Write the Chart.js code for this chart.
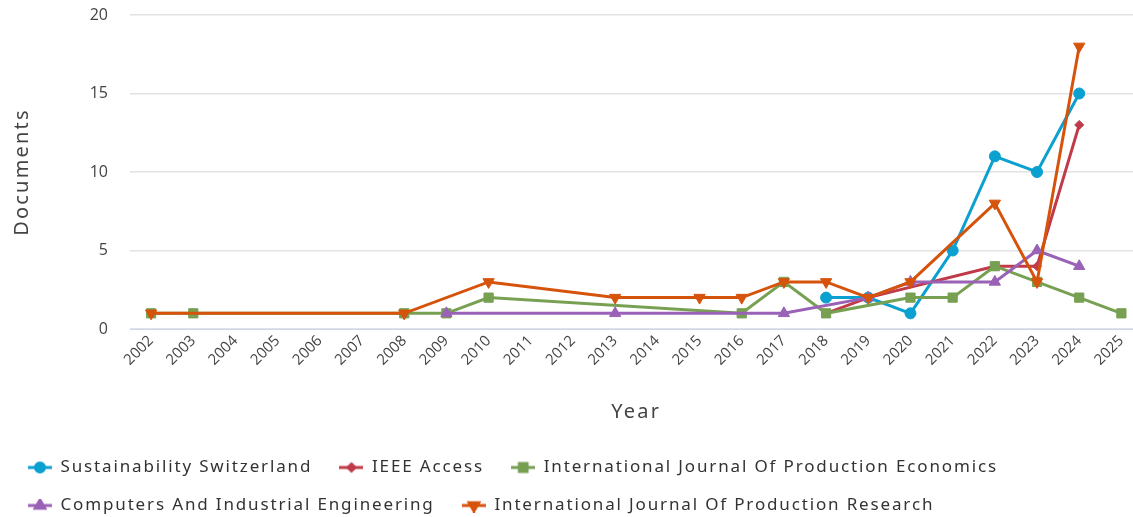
<!DOCTYPE html>
<html>
<head>
<meta charset="utf-8">
<script src="https://cdn.jsdelivr.net/npm/chart.js@4.4.1/dist/chart.umd.min.js"></script>
<style>
  html, body { margin: 0; padding: 0; background: #ffffff; overflow: hidden; }
  #wrap { position: relative; width: 1133px; height: 517px; overflow: hidden; }
  #c { position: absolute; left: 0; top: 0; }
</style>
</head>
<body>
<div id="wrap"><canvas id="c" width="1150" height="524"></canvas></div>
<script>
const years = ["2002","2003","2004","2005","2006","2007","2008","2009","2010","2011","2012","2013",
               "2014","2015","2016","2017","2018","2019","2020","2021","2022","2023","2024","2025"];
//                      02   03   04   05   06   07   08   09   10   11   12   13   14   15   16   17   18  19  20  21  22  23  24  25
const sustainability = [null,null,null,null,null,null,null,null,null,null,null,null,null,null,null,null,2,  2,  1,  5,  11, 10, 15, null];
const ieeeAccess     = [null,null,null,null,null,null,null,null,null,null,null,null,null,null,null,null,1,  2,  null,null,4,4,  13, null];
const prodEconomics  = [1,   1,   null,null,null,null,1,   1,   2,   null,null,null,null,null,1,   3,   1,  null,2, 2,  4,  3,  2,  1];
const compIndEng     = [null,null,null,null,null,null,null,1,   null,null,null,1,   null,null,null,1,   null,2, 3,  null,3,5,  4,  null];
const prodResearch   = [1,   null,null,null,null,null,1,   null,3,   null,null,2,   null,2,   2,   3,   3,   2,  3,  null,8,3,  18, null];

const seriesNames = ["Sustainability Switzerland", "IEEE Access", "International Journal Of Production Economics",
                     "Computers And Industrial Engineering", "International Journal Of Production Research"];
const yTicks = [0, 5, 10, 15, 20];

// wider tracking for the legend / axis-title font (reference font is wide)
(function () {
  const d = Object.getOwnPropertyDescriptor(CanvasRenderingContext2D.prototype, "font");
  Object.defineProperty(CanvasRenderingContext2D.prototype, "font", {
    configurable: true,
    get() { return d.get.call(this); },
    set(v) {
      d.set.call(this, v);
      if ("letterSpacing" in this) {
        const m = /(\d+(?:\.\d+)?)px/.exec(v);
        if (/Noto Sans/.test(v) && m) this.letterSpacing = (parseFloat(m[1]) * 0.109).toFixed(2) + "px";
        else this.letterSpacing = "0px";
      }
    }
  });
})();

const TFONT = "'Noto Sans', 'Open Sans', sans-serif";
const NFONT = "'Open Sans', sans-serif";
const styles = [
  { color: "#0aa0cf", pointStyle: "circle",   rotation: 0,   radius: 5.5 },
  { color: "#c03a4a", pointStyle: "rectRot",  rotation: 0,   radius: 4.5 },
  { color: "#77a052", pointStyle: "rect",     rotation: 0,   radius: 6.5 },
  { color: "#9a62b6", pointStyle: "triangle", rotation: 0,   radius: 6.5 },
  { color: "#d6530c", pointStyle: "triangle", rotation: 180, radius: 6.5 }
];
const seriesData = [sustainability, ieeeAccess, prodEconomics, compIndEng, prodResearch];

function legendIcon(s) {
  const cv = document.createElement("canvas");
  cv.width = 24; cv.height = 14;
  const ctx = cv.getContext("2d");
  ctx.strokeStyle = s.color; ctx.lineWidth = 3;
  ctx.beginPath(); ctx.moveTo(0, 7); ctx.lineTo(24, 7); ctx.stroke();
  ctx.fillStyle = s.color;
  Chart.helpers.drawPoint(ctx, { pointStyle: s.pointStyle, rotation: s.rotation, radius: s.radius - 1, borderWidth: 1 }, 12, 7);
  ctx.fill();
  return cv;
}

const datasets = seriesData.map((d, i) => ({
  label: seriesNames[i],
  data: d,
  borderColor: styles[i].color,
  backgroundColor: styles[i].color,
  pointBackgroundColor: styles[i].color,
  pointBorderColor: styles[i].color,
  pointStyle: styles[i].pointStyle,
  pointRotation: styles[i].rotation,
  pointRadius: styles[i].radius,
  pointBorderWidth: 1,
  borderWidth: 3,
  tension: 0,
  spanGaps: true,
  order: 5 - i
}));

new Chart(document.getElementById("c"), {
  type: "line",
  data: { labels: years, datasets },
  options: {
    responsive: false,
    animation: false,
    layout: { padding: { left: 7, right: 2, top: 15, bottom: 0 } },
    plugins: {
      tooltip: { enabled: false },
      legend: {
        position: "bottom",
        align: "start",
        labels: {
          usePointStyle: true,
          pointStyleWidth: 24,
          boxHeight: 14,
          padding: 21,
          color: "#333333",
          font: { family: TFONT, size: 17 },
          generateLabels: (chart) => chart.data.datasets.map((ds, i) => ({
            text: ds.label + " ",
            fillStyle: styles[i].color,
            strokeStyle: styles[i].color,
            lineWidth: 0,
            pointStyle: legendIcon(styles[i]),
            hidden: false,
            datasetIndex: i,
            fontColor: "#333333"
          }))
        }
      }
    },
    scales: {
      x: {
        type: "category",
        offset: true,
        grid: { display: false, drawTicks: false },
        border: { display: true, color: "#c9d7ef", width: 1 },
        ticks: {
          minRotation: 45, maxRotation: 45, autoSkip: false,
          padding: 3,
          color: "#444444",
          font: { family: NFONT, size: 15 }
        },
        title: {
          display: true, text: "Year", color: "#444444",
          font: { family: TFONT, size: 20 },
          padding: { top: 28, bottom: 14 }
        }
      },
      y: {
        min: 0, max: 20,
        afterBuildTicks: (scale) => { scale.ticks = yTicks.map(v => ({ value: v })); },
        afterFit: (scale) => { scale.width = 123; },
        grid: { color: "#e2e2e2", lineWidth: 1.5, drawTicks: true, tickLength: 22, tickColor: "rgba(0,0,0,0)" },
        border: { display: false },
        ticks: {
          padding: 0,
          color: "#444444",
          font: { family: NFONT, size: 16 }
        },
        title: {
          display: true, text: "Documents", color: "#444444",
          font: { family: TFONT, size: 20 },
          padding: { top: 3, bottom: 0 }
        }
      }
    }
  }
});
</script>
</body>
</html>
